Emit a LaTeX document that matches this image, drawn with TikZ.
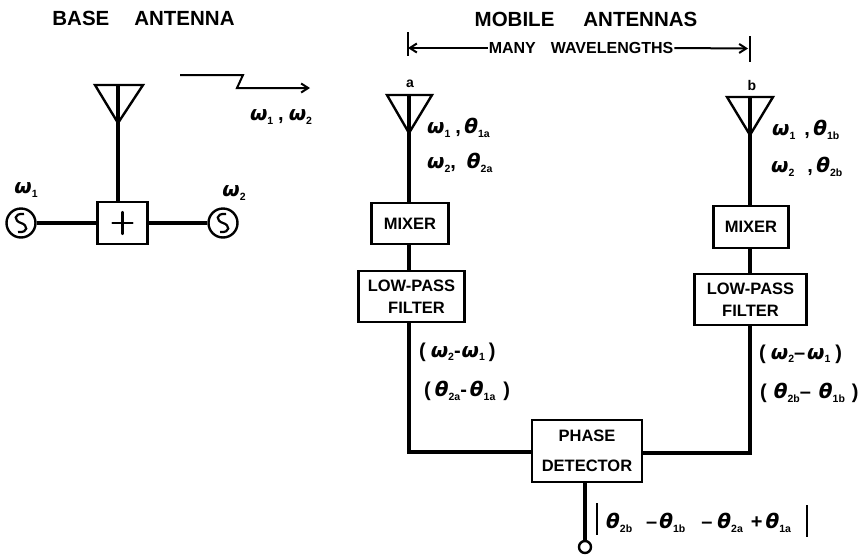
\documentclass[tikz,border=0pt]{standalone}
\usepackage{fontspec}
\setmainfont{Liberation Sans}[BoldFont=Liberation Sans Bold,BoldItalicFont=Liberation Sans Bold Italic]
\newfontfamily\grk{DejaVu Sans}[BoldItalicFont=DejaVu Sans Bold Oblique,ItalicFont=DejaVu Sans Oblique]
\newcommand{\fs}[1]{\fontsize{#1}{#1}\selectfont}
\newcommand{\om}{{\grk\bfseries\itshape ω}}
\newcommand{\tht}{{\grk\bfseries\itshape θ}}
\newcommand{\sbs}[1]{\raisebox{-0.35ex}{\fs{10.5}\bfseries #1}}
\newcommand{\oms}[1]{\om\sbs{#1}}
\newcommand{\ths}[1]{\tht\sbs{#1}}
\usetikzlibrary{arrows.meta}
\tikzset{
  x=1pt,y=-1pt,
  every node/.style={font=\bfseries},
  wire/.style={line width=3.6pt,line cap=butt},
  thinwire/.style={line width=2pt},
  unit/.style={draw,line width=2.4pt,inner sep=0pt,align=center,font=\bfseries\fs{16.5}},
  source/.style={draw,circle,line width=2.4pt,inner sep=0pt,minimum size=29pt},
  aerial/.style={line width=2.4pt,line join=miter},
  title/.style={font=\bfseries\fs{20.5}},
  lab/.style={font=\bfseries\fs{20},anchor=west,inner sep=0pt},
  tip/.style={-{Straight Barb[length=7pt,width=9pt,line width=2pt]}},
}
\begin{document}
\begin{tikzpicture}
\useasboundingbox (0,0) rectangle (862,555);
% --- titles
\node[title] (tbase) at (143.5,18) {BASE\hspace{25pt}ANTENNA};
\node[title] (tmob) at (586,19) {MOBILE\hspace{29pt}ANTENNAS};
% --- base station
\node[unit,minimum width=50pt,minimum height=42pt] (sum) at (122.5,223) {};
\node[source] (s1) at (21,223) {};
\node[source] (s2) at (223,223) {};
\draw[line width=2.2pt,line cap=round] (sum.center) ++(-10,0) -- ++(20,0) (sum.center) ++(0,-11) -- ++(0,22);
\foreach \n in {s1,s2}
  \draw[line width=2.2pt,shift={(\n.center)}] (3,-9) .. controls (-8,-10) and (-7,-2) .. (0,0) .. controls (7,2) and (8,10) .. (-3,9);
\coordinate (btop) at (118,85);
\coordinate (bapex) at (118,123);
\draw[aerial] (95,85) -- (143,85) -- (bapex) -- cycle;
\draw[wire] (btop) -- (sum.north -| btop);
\draw[wire] (s1.east) -- (sum.west);
\draw[wire] (sum.east) -- (s2.west);
\node[lab,anchor=center] (w1) at (26,190) {\oms{1}};
\node[lab,anchor=center] (w2) at (234,193) {\oms{2}};
\coordinate (r0) at (180,75);
\coordinate (r1) at (310,88);
\draw[thinwire,tip] (r0) -- (243,75) -- (237,88) -- (r1);
\node[lab,anchor=center] (rw) at (281,117) {\oms{1}\hspace{5pt},\hspace{5pt}\oms{2}};
% --- spacing
\coordinate (t1a) at (408,32); \coordinate (t1b) at (408,56);
\coordinate (t2a) at (750,36); \coordinate (t2b) at (750,62);
\draw[line width=1.8pt] (t1a) -- (t1b) (t2a) -- (t2b);
\node[font=\bfseries\fs{16},inner sep=1pt] (many) at (581,48) {MANY\hspace{15pt}WAVELENGTHS};
\draw[thinwire,tip] (many.west) -- (t1b |- many);
\draw[thinwire,tip] (many.east) -- (748,48.5);
% --- chain a
\node[font=\bfseries\fs{14}] (la) at (410,84) {a};
\coordinate (atop) at (409,95);
\draw[aerial] (387,95) -- (432,95) -- (409,133) -- cycle;
\node[unit,minimum width=77pt,minimum height=41pt] (ma) at (410,223.5) {MIXER};
\node[unit,minimum width=106pt,minimum height=51pt] (fa) at (411.5,296.5) {LOW-PASS\\[5pt]\hspace{10pt}FILTER};
\draw[wire] (atop) -- (ma.north -| atop);
\draw[wire] (ma.south -| atop) -- (fa.north -| atop);
% --- chain b
\node[font=\bfseries\fs{14}] (lb) at (752,85) {b};
\coordinate (btopb) at (750,97);
\draw[aerial] (727,97) -- (773,97) -- (750,135) -- cycle;
\node[unit,minimum width=75pt,minimum height=42pt] (mb) at (751,227) {MIXER};
\node[unit,minimum width=112pt,minimum height=51pt] (fb) at (750.5,299.5) {LOW-PASS\\[5pt]FILTER};
\draw[wire] (btopb) -- (mb.north -| btopb);
\draw[wire] (mb.south -| btopb) -- (fb.north -| btopb);
% --- detector
\node[unit,minimum width=110pt,minimum height=62pt] (pd) at (587,451) {PHASE\\[13pt]DETECTOR};
\coordinate (fal) at (409,322);
\coordinate (fbl) at (750,325);
\draw[wire,line join=miter] (fal) -- (409,452) -- (pd.west |- 0,452);
\draw[wire,line join=miter] (fbl) -- (750,453) -- (pd.east |- 0,453);
\node[draw,circle,line width=2.4pt,inner sep=0pt,minimum size=12pt] (out) at (585,547) {};
\draw[wire] (585,482) -- (out.north);
% --- signal labels
\node[lab] (a1) at (427,128) {\oms{1}\hspace{5pt},\,\ths{1a}};
\node[lab] (a2) at (427,163) {\oms{2},\hspace{11pt}\ths{2a}};
\node[lab] (b1) at (772,130) {\oms{1}\hspace{9pt},\,\ths{1b}};
\node[lab] (b2) at (771,167) {\oms{2}\hspace{13pt},\,\ths{2b}};
\node[lab] (c1) at (419,352) {(\hspace{5pt}\oms{2}-\hspace{1pt}\oms{1}\hspace{4pt})};
\node[lab] (c2) at (424,391) {(\hspace{4pt}\ths{2a}-\hspace{3pt}\ths{1a}\hspace{8pt})};
\node[lab] (d1) at (759,354) {(\hspace{5pt}\oms{2}–\hspace{2pt}\oms{1}\hspace{5pt})};
\node[lab] (d2) at (760,393) {(\hspace{7pt}\ths{2b}–\hspace{8pt}\ths{1b}\hspace{7pt})};
\node[lab] (res) at (606,523) {\ths{2b}\hspace{14pt}–\hspace{2pt}\ths{1b}\hspace{16pt}–\hspace{5pt}\ths{2a}\hspace{8pt}+\hspace{3pt}\ths{1a}};
\draw[line width=1.8pt] (597,503) -- (597,535) (807,505) -- (807,537);
\end{tikzpicture}
\end{document}
